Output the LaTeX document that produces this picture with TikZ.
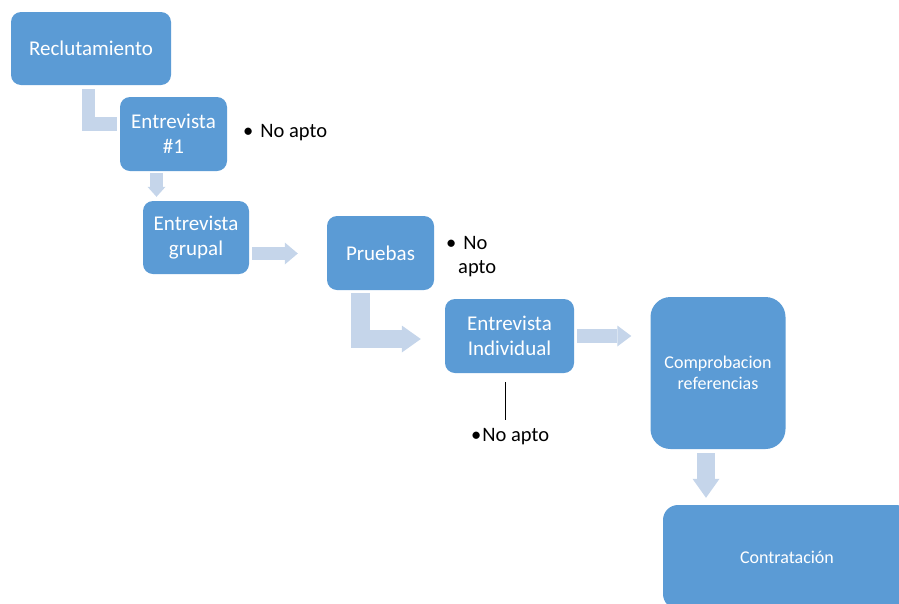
\documentclass[tikz,border=0pt]{standalone}
\usepackage{fontspec}
\setmainfont{Carlito}
\usepackage{xcolor}
\usetikzlibrary{arrows.meta,calc,positioning}

\begin{document}
\begin{tikzpicture}[x=1pt,y=-1pt,
    stage/.style={fill=boxblue, rounded corners=10pt, text=white, align=center, inner sep=0pt,
      font=\fontsize{21}{24.5}\selectfont},
    flow/.style n args={3}{draw=arrowblue, line width=#1, -{Triangle[width=#2,length=#3,line width=0pt]}},
    note/.style={inner sep=0pt, font=\fontsize{20.5}{24}\selectfont}]
    \definecolor{boxblue}{RGB}{91,155,213}
    \definecolor{arrowblue}{RGB}{197,213,234}
    \clip (0,0) rectangle (899,603);

    % stages
    \node[stage, minimum width=160pt, minimum height=73pt] (reclut) at (91,48.5) {Reclutamiento};
    \node[stage, minimum width=107pt, minimum height=74pt] (ent1) at (173.5,134) {Entrevista\\\#1};
    \node[stage, minimum width=106pt, minimum height=73pt] (grupal) at (196,237.5) {Entrevista\\grupal};
    \node[stage, minimum width=107pt, minimum height=74pt] (pruebas) at (380.5,253) {Pruebas};
    \node[stage, minimum width=129pt, minimum height=74pt] (indiv) at (509.5,336) {Entrevista\\Individual};
    \node[stage, minimum width=135pt, minimum height=152pt, rounded corners=20pt,
      font=\fontsize{18}{20.5}\selectfont] (refs) at (718,373) {Comprobacion\\referencias};
    \node[stage, minimum width=248pt, minimum height=104pt, rounded corners=15pt,
      font=\fontsize{18}{21}\selectfont] (contrat) at (787,557) {Contratación};

    % block arrows
    \draw[flow={13.5pt}{22pt}{13pt}, -] ($(reclut.south)+(-2.5,4)$) |- ($(ent1.west)+(-3,-10)$);
    \draw[flow={13pt}{18pt}{10pt}] ($(ent1.south)+(-17,2)$) -- ($(grupal.north)+(-39.5,-4)$);
    \draw[flow={13pt}{22pt}{13pt}] ($(grupal.east)+(3,16)$) -- ($(pruebas.west)+(-29,0.5)$);
    \draw[flow={18.5pt}{27pt}{19pt}] ($(pruebas.south)+(-20,3)$) |- ($(indiv.west)+(-24,3)$);
    \draw[flow={14pt}{21pt}{14pt}] ($(indiv.east)+(3,0)$) -- ($(refs.west)+(-19,-37)$);
    \draw[flow={18pt}{27pt}{19pt}] ($(refs.south)+(-12,4)$) -- ($(contrat.north)+(-81,-7)$);

    % rejections
    \node[note, anchor=west] (out1) at (243,133) {\textbullet\hspace{7pt}No apto};
    \node[note, anchor=west, align=left] (out2) at (446,257) {\textbullet\hspace{7pt}No\\\hspace*{12pt}apto};
    \node[note, anchor=west] (out3) at (471,437) {\textbullet\hspace{1pt}No apto};
    \coordinate (cut) at ($(indiv.south)+(-4.5,9)$);
    \draw[line width=0.8pt] (cut) -- ($(cut |- out3.north)+(0,-9)$);
\end{tikzpicture}
\end{document}
